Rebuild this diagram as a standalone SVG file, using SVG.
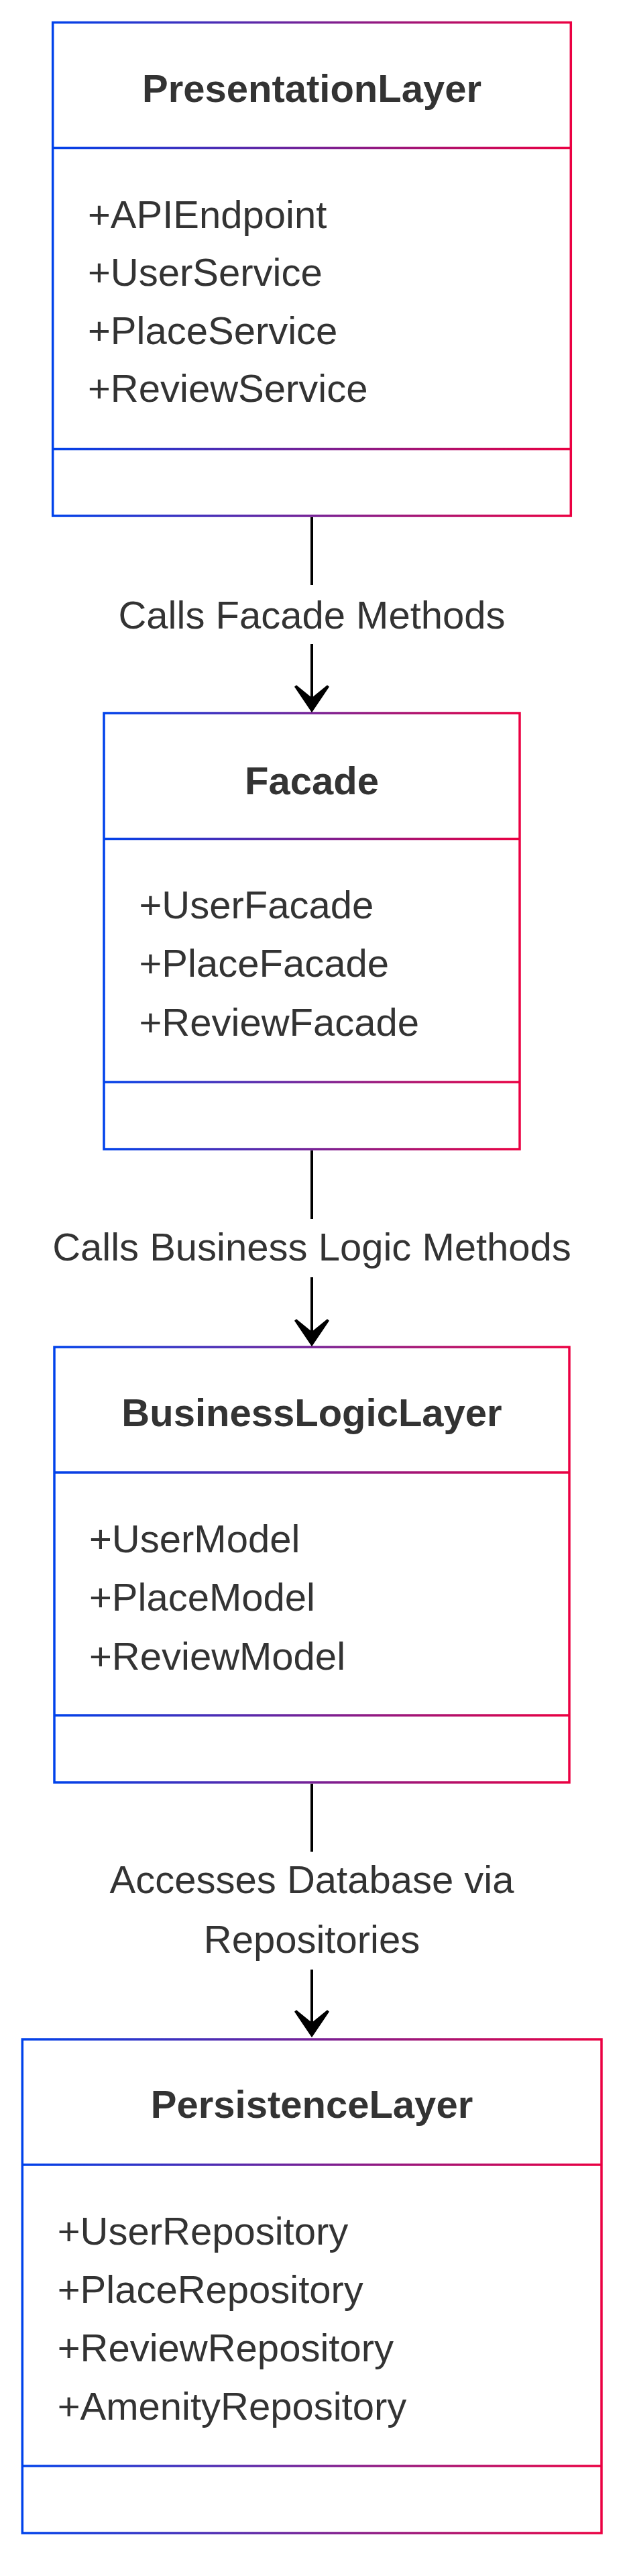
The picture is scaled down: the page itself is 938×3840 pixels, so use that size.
<svg xmlns="http://www.w3.org/2000/svg" width="938" height="3840" viewBox="0 0 938 3840">
<style>
.box{fill:#ffffff;stroke-width:3.5}
.div{stroke-width:3.5;fill:none}
.title{font-family:"Liberation Sans",Arial,sans-serif;font-weight:bold;font-size:58px;fill:#333333;text-anchor:middle}
.mem{font-family:"Liberation Sans",Arial,sans-serif;font-size:58px;fill:#333333}
.lbl{font-family:"Liberation Sans",Arial,sans-serif;font-size:58px;fill:#333333;text-anchor:middle}
.edge{stroke:#000000;stroke-width:4;fill:none}
</style>
<defs>
<linearGradient id="g1" gradientUnits="userSpaceOnUse" x1="78.7" y1="0" x2="851.3" y2="0"><stop offset="0" stop-color="#0042eb"/><stop offset="1" stop-color="#eb0042"/></linearGradient>
<linearGradient id="g2" gradientUnits="userSpaceOnUse" x1="155" y1="0" x2="775" y2="0"><stop offset="0" stop-color="#0042eb"/><stop offset="1" stop-color="#eb0042"/></linearGradient>
<linearGradient id="g3" gradientUnits="userSpaceOnUse" x1="81" y1="0" x2="849" y2="0"><stop offset="0" stop-color="#0042eb"/><stop offset="1" stop-color="#eb0042"/></linearGradient>
<linearGradient id="g4" gradientUnits="userSpaceOnUse" x1="33.3" y1="0" x2="897" y2="0"><stop offset="0" stop-color="#0042eb"/><stop offset="1" stop-color="#eb0042"/></linearGradient>
<marker id="arrow" markerUnits="userSpaceOnUse" viewBox="0 0 44 56" markerWidth="44" markerHeight="56" refX="19.7" refY="28" orient="auto">
<polygon points="42,28 3.4,2 1,5 19.7,28 1,51 3.4,54" fill="#000000"/>
</marker>
</defs>
<g id="PresentationLayer" stroke="url(#g1)">
<rect class="box" x="78.7" y="33.5" width="772.6" height="735.5"/>
<line class="div" x1="78.7" y1="220.5" x2="851.3" y2="220.5"/>
<line class="div" x1="78.7" y1="669.5" x2="851.3" y2="669.5"/>
<g stroke="none">
<text class="title" x="465" y="152.3">PresentationLayer</text>
<text class="mem" x="131" y="339.5">+APIEndpoint</text>
<text class="mem" x="131" y="426">+UserService</text>
<text class="mem" x="131" y="512.5">+PlaceService</text>
<text class="mem" x="131" y="599">+ReviewService</text>
</g>
</g>
<g id="Facade" stroke="url(#g2)">
<rect class="box" x="155" y="1063" width="620" height="650"/>
<line class="div" x1="155" y1="1250.5" x2="775" y2="1250.5"/>
<line class="div" x1="155" y1="1613" x2="775" y2="1613"/>
<g stroke="none">
<text class="title" x="465" y="1183.5">Facade</text>
<text class="mem" x="207.5" y="1368.5">+UserFacade</text>
<text class="mem" x="207.5" y="1456">+PlaceFacade</text>
<text class="mem" x="207.5" y="1543.5">+ReviewFacade</text>
</g>
</g>
<g id="BusinessLogicLayer" stroke="url(#g3)">
<rect class="box" x="81" y="2008" width="768" height="649"/>
<line class="div" x1="81" y1="2195" x2="849" y2="2195"/>
<line class="div" x1="81" y1="2557" x2="849" y2="2557"/>
<g stroke="none">
<text class="title" x="465" y="2126">BusinessLogicLayer</text>
<text class="mem" x="133" y="2313.5">+UserModel</text>
<text class="mem" x="133" y="2401">+PlaceModel</text>
<text class="mem" x="133" y="2488.5">+ReviewModel</text>
</g>
</g>
<g id="PersistenceLayer" stroke="url(#g4)">
<rect class="box" x="33.3" y="3040" width="863.7" height="736"/>
<line class="div" x1="33.3" y1="3227" x2="897" y2="3227"/>
<line class="div" x1="33.3" y1="3676" x2="897" y2="3676"/>
<g stroke="none">
<text class="title" x="465" y="3157">PersistenceLayer</text>
<text class="mem" x="85.7" y="3345.7">+UserRepository</text>
<text class="mem" x="85.7" y="3433">+PlaceRepository</text>
<text class="mem" x="85.7" y="3520">+ReviewRepository</text>
<text class="mem" x="85.7" y="3607.3">+AmenityRepository</text>
</g>
</g>
<g id="connectors">
<path class="edge" d="M465 771 V872 M465 960 V1040" marker-end="url(#arrow)"/>
<text class="lbl" x="465" y="937">Calls Facade Methods</text>
<path class="edge" d="M465 1715 V1817 M465 1904 V1985" marker-end="url(#arrow)"/>
<text class="lbl" x="465" y="1878.6">Calls Business Logic Methods</text>
<path class="edge" d="M465 2659 V2760.5 M465 2936 V3015" marker-end="url(#arrow)"/>
<text class="lbl" x="465" y="2822">Accesses Database via</text>
<text class="lbl" x="465" y="2910.5">Repositories</text>
</g>
</svg>
